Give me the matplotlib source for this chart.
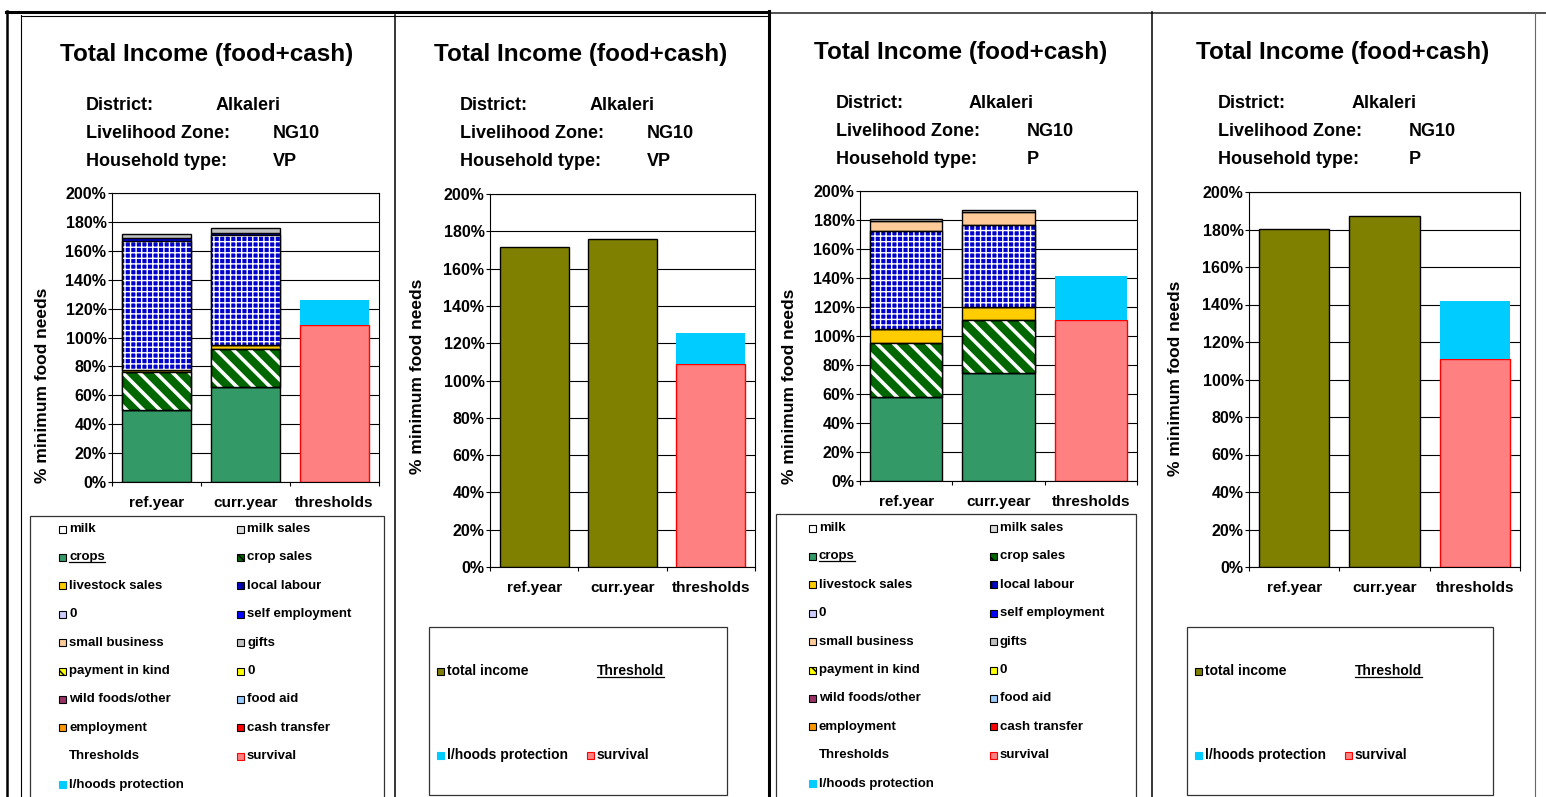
import numpy as np
import matplotlib
matplotlib.use('Agg')
import matplotlib.pyplot as plt
from matplotlib.patches import Rectangle
from matplotlib.lines import Line2D

plt.rcParams['font.family'] = ['Liberation Sans', 'DejaVu Sans']
plt.rcParams['font.weight'] = 'bold'

W, H = 1546, 797

categories = ['ref.year', 'curr.year', 'thresholds']

# income sources, % of minimum food needs, [ref.year, curr.year]
# very poor (VP) households
vp_crops = [50.0, 66.0]
vp_crop_sales = [26.0, 26.0]
vp_livestock_sales = [1.5, 3.0]
vp_local_labour = [89.5, 76.0]
vp_self_employment = [2.0, 1.5]
vp_small_business = [0.0, 0.0]
vp_gifts = [2.5, 3.2]
vp_survival = 108.7
vp_protection = 17.0

# poor (P) households
p_crops = [58.0, 74.5]
p_crop_sales = [37.0, 36.5]
p_livestock_sales = [9.5, 9.0]
p_local_labour = [68.0, 56.5]
p_self_employment = [0.0, 0.0]
p_small_business = [6.5, 9.0]
p_gifts = [1.5, 1.5]
p_survival = 111.2
p_protection = 30.5

district = 'Alkaleri'
zone = 'NG10'

# fill colour and hatch for each source, in stacking order
styles = {
    'crops': ('#339966', None),
    'crop sales': ('#006600', '\\\\'),
    'livestock sales': ('#FFCC00', None),
    'local labour': ('#0000CC', '+++'),
    'self employment': ('#0000FF', None),
    'small business': ('#FFCC99', None),
    'gifts': ('#C0C0C0', None),
}
hatch_widths = {'\\\\': 2.6, '+++': 1.0}

fig = plt.figure(figsize=(W / 100, H / 100), dpi=100)


def px_axes(left, right, top, bottom):
    ax = fig.add_axes([left / W, 1 - bottom / H, (right - left) / W, (bottom - top) / H])
    ax.set_xlim(-0.5, 2.5)
    ax.set_ylim(0, 200)
    ax.set_yticks(range(0, 201, 20))
    ax.set_yticklabels([f'{v}%' for v in range(0, 201, 20)])
    ax.yaxis.grid(True, color='black', linewidth=0.8)
    ax.set_axisbelow(True)
    ax.set_xticks([0, 1, 2])
    ax.set_xticklabels(categories)
    ax.set_xticks([-0.5, 0.5, 1.5, 2.5], minor=True)
    ax.tick_params(axis='x', which='major', length=0, pad=10, labelsize=11)
    ax.tick_params(axis='x', which='minor', length=3, width=0.8)
    ax.tick_params(axis='y', length=3, width=0.8, pad=1, labelsize=11.5)
    for s in ax.spines.values():
        s.set_linewidth(0.8)
        s.set_color('black')
    return ax


def hatched_bar(ax, x, h, bottom, color, hatch, width):
    ax.bar(x, h, width, bottom=bottom, color=color, edgecolor='black', linewidth=1, zorder=2)
    if hatch:
        lw = hatch_widths[hatch]
        with plt.rc_context({'hatch.linewidth': lw}):
            over = ax.bar(x, h, width, bottom=bottom, facecolor='none', edgecolor='white',
                          hatch=hatch, linewidth=0, zorder=2.1)
        for p in over:
            if hasattr(p, 'set_hatch_linewidth'):
                p.set_hatch_linewidth(lw)
        ax.bar(x, h, width, bottom=bottom, facecolor='none', edgecolor='black',
               linewidth=1, zorder=2.2)


def thresholds(ax, survival, protection, width):
    ax.bar(2, survival, width, color='#FF8080', edgecolor='#FF0000', linewidth=1, zorder=2)
    ax.bar(2, protection, width, bottom=survival, color='#00CCFF', linewidth=0, zorder=2)


def sources_panel(ax, series, survival, protection, width=0.78):
    bottom = np.zeros(2)
    for name, vals in series:
        color, hatch = styles[name]
        for i in range(2):
            if vals[i] > 0:
                hatched_bar(ax, i, vals[i], bottom[i], color, hatch, width)
        bottom += np.array(vals)
    thresholds(ax, survival, protection, width)


def total_panel(ax, series, survival, protection, width=0.78):
    total = np.sum([v for _, v in series], axis=0)
    ax.bar([0, 1], total, width, color='#808000', edgecolor='black', linewidth=1, zorder=2)
    thresholds(ax, survival, protection, width)


def header(cx, x0, xv, y_title, y_info, hh_type):
    fig.text(cx / W, 1 - y_title / H, 'Total Income (food+cash)', ha='center', va='center',
             fontsize=17.5)
    fig.text(x0 / W, 1 - y_info / H, 'District:', va='center', fontsize=13)
    fig.text(xv[0] / W, 1 - y_info / H, district, va='center', fontsize=13)
    fig.text(x0 / W, 1 - (y_info + 28) / H, 'Livelihood Zone:', va='center', fontsize=13)
    fig.text(xv[1] / W, 1 - (y_info + 28) / H, zone, va='center', fontsize=13)
    fig.text(x0 / W, 1 - (y_info + 56) / H, 'Household type:', va='center', fontsize=13)
    fig.text(xv[1] / W, 1 - (y_info + 56) / H, hh_type, va='center', fontsize=13)


def ylabel(x, y):
    fig.text(x / W, 1 - y / H, '% minimum food needs', rotation=90, ha='center', va='center',
             fontsize=12.5)


underlined = []


def swatch(x, y, color, label, hatch=None, edge='black', size=7, fs=9.5, underline=False):
    if color is not None:
        r = Rectangle((x / W, 1 - (y + size / 2) / H), size / W, size / H, transform=fig.transFigure,
                      facecolor=color, edgecolor=edge, linewidth=0.8, hatch=hatch)
        fig.add_artist(r)
    t = fig.text((x + size + 3) / W, 1 - y / H, label, va='center', fontsize=fs)
    if underline:
        underlined.append(t)


def box(x0, x1, y0, y1):
    fig.add_artist(Rectangle((x0 / W, 1 - y1 / H), (x1 - x0) / W, (y1 - y0) / H,
                             transform=fig.transFigure, facecolor='none', edgecolor='#333333',
                             linewidth=0.9))


def sources_legend(xc1, xc2, y0, step):
    left = [('milk', '#FFFFFF', None), ('crops', '#339966', None),
            ('livestock sales', '#FFCC00', None), ('0', '#CCCCFF', None),
            ('small business', '#FFCC99', None), ('payment in kind', '#FFFF00', '\\\\\\'),
            ('wild foods/other', '#993366', None), ('employment', '#FF9900', None),
            ('Thresholds', None, None), ('l/hoods protection', '#00CCFF', None)]
    right = [('milk sales', '#D9D9D9', None), ('crop sales', '#006600', '\\\\'),
             ('local labour', '#0000CC', '+'), ('self employment', '#0000FF', None),
             ('gifts', '#C0C0C0', None), ('0', '#FFFF00', None),
             ('food aid', '#99CCFF', None), ('cash transfer', '#FF0000', None),
             ('survival', '#FF8080', None)]
    for i, (lab, col, hat) in enumerate(left):
        edge = '#00CCFF' if lab == 'l/hoods protection' else 'black'
        swatch(xc1, y0 + i * step, col, lab, hatch=hat, edge=edge, underline=(lab == 'crops'))
    for i, (lab, col, hat) in enumerate(right):
        edge = '#FF0000' if lab == 'survival' else 'black'
        swatch(xc2, y0 + i * step, col, lab, hatch=hat, edge=edge)


def totals_legend(x1, x2, y_top, y_bot):
    swatch(x1, y_top, '#808000', 'total income', fs=10)
    fig.text((x2 + 10) / W, 1 - y_top / H, 'Threshold', va='center', fontsize=10)
    underlined.append(fig.texts[-1])
    swatch(x1, y_bot, '#00CCFF', 'l/hoods protection', edge='#00CCFF', fs=10)
    swatch(x2, y_bot, '#FF8080', 'survival', edge='#FF0000', fs=10)


vp_series = [('crops', vp_crops), ('crop sales', vp_crop_sales),
             ('livestock sales', vp_livestock_sales), ('local labour', vp_local_labour),
             ('self employment', vp_self_employment), ('small business', vp_small_business),
             ('gifts', vp_gifts)]
p_series = [('crops', p_crops), ('crop sales', p_crop_sales),
            ('livestock sales', p_livestock_sales), ('local labour', p_local_labour),
            ('self employment', p_self_employment), ('small business', p_small_business),
            ('gifts', p_gifts)]

# VP, income by source
ax1 = px_axes(112, 379, 193, 482)
sources_panel(ax1, vp_series, vp_survival, vp_protection)
header(207, 86, (216, 273), 55, 105, 'VP')
ylabel(43, 385)
box(30, 384, 516, 820)
sources_legend(59, 237, 529, 28.4)

# VP, total income
ax2 = px_axes(490, 755, 194, 567)
total_panel(ax2, vp_series, vp_survival, vp_protection)
header(581, 460, (590, 647), 55, 105, 'VP')
ylabel(418, 376)
box(429, 727, 627, 795)
totals_legend(437, 587, 671, 755)

# P, income by source
ax3 = px_axes(860, 1137, 191, 481)
sources_panel(ax3, p_series, p_survival, p_protection)
header(961, 836, (969, 1027), 52, 103, 'P')
ylabel(790, 386)
box(776, 1136, 514, 820)
sources_legend(809, 990, 528, 28.4)

# P, total income
ax4 = px_axes(1249, 1520, 192, 567)
total_panel(ax4, p_series, p_survival, p_protection)
header(1343, 1218, (1352, 1409), 52, 103, 'P')
ylabel(1176, 378)
box(1187, 1493, 627, 795)
totals_legend(1195, 1345, 671, 755)


# page frame lines
def hline(x0, x1, y, lw, color='black'):
    fig.add_artist(Line2D([x0 / W, x1 / W], [1 - y / H] * 2, transform=fig.transFigure,
                          color=color, linewidth=lw))


def vline(x, y0, y1, lw, color='black'):
    fig.add_artist(Line2D([x / W] * 2, [1 - y0 / H, 1 - y1 / H], transform=fig.transFigure,
                          color=color, linewidth=lw))


hline(6, 769, 12, 2.2)
hline(21, 769, 15.5, 0.8)
hline(769, 1546, 12.5, 1.2, '#333333')
vline(7, 11, 797, 1.8)
vline(21, 15, 797, 0.8)
vline(394.5, 15, 797, 1.1)
vline(769, 11, 797, 2.2)
vline(1152, 12, 797, 1.1)
vline(1535, 12, 797, 0.8, '#666666')

fig.canvas.draw()
for t in underlined:
    bb = t.get_window_extent()
    y = (bb.y0 + 1.5) / H
    fig.add_artist(Line2D([bb.x0 / W, bb.x1 / W], [y, y], transform=fig.transFigure,
                          color='black', linewidth=0.9))

fig.savefig('out.png', dpi=100)
